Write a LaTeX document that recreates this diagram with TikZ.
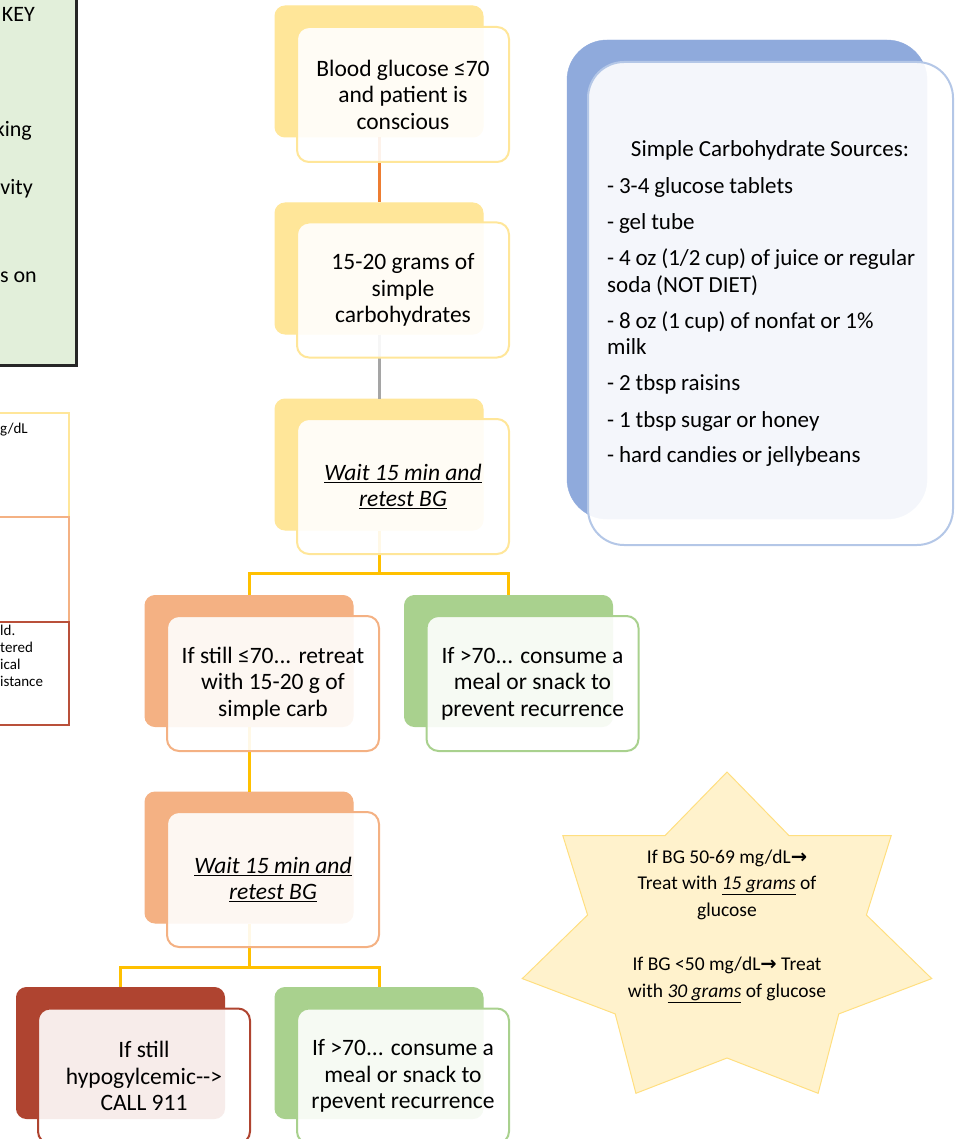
\documentclass[tikz,border=0pt]{standalone}
\usepackage{fontspec}
\setmainfont{Carlito}
\newfontfamily\dejavu{DejaVu Sans}
\usetikzlibrary{calc}
\definecolor{ylw}{HTML}{FFE699}
\definecolor{org}{HTML}{F4B183}
\definecolor{grn}{HTML}{A9D18E}
\definecolor{brick}{HTML}{AF4430}
\definecolor{blueback}{HTML}{8FAADC}
\definecolor{bluefront}{HTML}{B4C7E7}
\definecolor{keygreen}{HTML}{E2EFDA}
\definecolor{keyline}{HTML}{262626}
\definecolor{starfill}{HTML}{FFF2CC}
\definecolor{starline}{HTML}{FFDF80}
\definecolor{lineorange}{HTML}{ED7D31}
\definecolor{linegray}{HTML}{A5A5A5}
\definecolor{linegold}{HTML}{FFC000}
\definecolor{tablered}{HTML}{B9503A}
\begin{document}
\begin{tikzpicture}[x=1pt,y=-1pt,
  backbox/.style={rectangle, rounded corners=10pt, minimum width=208pt, minimum height=131pt, inner sep=0pt, fill=#1, draw=#1, line width=1pt},
  frontbox/.style={rectangle, rounded corners=12pt, minimum width=212pt, minimum height=135pt, inner sep=0pt, draw=#1, line width=2pt, fill=white, fill opacity=0.9, text opacity=1, align=center, font=\fontsize{23.5}{26.5}\selectfont},
  conn/.style={line width=3pt, draw=#1},
  keytext/.style={anchor=base east, inner sep=0pt, font=\fontsize{22}{26}\selectfont},
  tabletext/.style={anchor=base west, inner sep=0pt, font=\fontsize{15}{17}\selectfont},
  cell/.style={line width=1.5pt, draw=#1}
]
\useasboundingbox (0,0) rectangle (960,1139);
\clip (0,0) rectangle (960,1139);

% key box (cut off at the left)
\node[rectangle, draw=keyline, line width=3pt, fill=keygreen, minimum width=84pt, minimum height=372pt, inner sep=0pt] (key) at (34.5,179.5) {};
\node[keytext] (k1) at (35,22) {KEY};
\node[keytext] (k2) at (32,137) {king};
\node[keytext] (k3) at (33,195) {vity};
\node[keytext] (k4) at (37,283) {s on};

% table (cut off at the left)
\draw[cell=ylw] (-5,413) rectangle (69,517);
\draw[cell=org] (-5,517) rectangle (69,622);
\draw[cell=tablered] (-5,622) rectangle (69,725);
\node[tabletext] (t1) at (0,433) {g/dL};
\node[tabletext] (t2) at (0,635) {ld.};
\node[tabletext] (t3) at (0,652) {tered};
\node[tabletext] (t4) at (0,669) {ical};
\node[tabletext] (t5) at (0,686) {istance};

% simple carbohydrate box
\node[rectangle, rounded corners=40pt, fill=blueback, draw=blueback, minimum width=360pt, minimum height=479pt, inner sep=0pt] (cb) at (747,279.5) {};
\node[rectangle, rounded corners=36pt, fill=white, fill opacity=0.9, draw=bluefront, line width=2pt, minimum width=365pt, minimum height=483pt, inner sep=0pt] (cf) at (770.5,303.5) {};
\node[anchor=base, inner sep=0pt, font=\fontsize{23}{26.5}\selectfont] (ctitle) at (770,157) {\spaceskip=0.21em Simple Carbohydrate Sources:};
\node[anchor=base west, inner sep=0pt, text width=345pt, align=left, font=\fontsize{23}{26.5}\selectfont] (clist) at (607,194) {\setlength{\parskip}{9.5pt}\spaceskip=0.21em plus 0.05em%
- 3-4 glucose tablets\par
- gel tube\par
- 4 oz (1/2 cup) of juice or regular\\soda (NOT DIET)\par
- 8 oz (1 cup) of nonfat or 1\%\\milk\par
- 2 tbsp raisins\par
- 1 tbsp sugar or honey\par
- hard candies or jellybeans};

% star
\draw[fill=starfill, draw=starline, line width=1pt]
  (727,772) -- (789,835.6) -- (891.2,835.6) -- (866.4,915) -- (931.7,978.6) -- (838.8,1013.9) -- (818.1,1093.3)
  -- (727,1058) -- (635.9,1093.3) -- (615.2,1013.9) -- (522.3,978.6) -- (587.6,915) -- (562.8,835.6) -- (665,835.6) -- cycle;
\node[align=center, inner sep=0pt, font=\fontsize{19.5}{26.8}\selectfont] (stext) at (727,926) {%
If BG 50-69 mg/dL{\dejavu\bfseries →}\\
Treat with \underline{\textit{15 grams}} of\\
glucose\\[26.8pt]
If BG <50 mg/dL{\dejavu\bfseries →} Treat\\
with \underline{\textit{30 grams}} of glucose};

% back boxes
\node[backbox=ylw] (b1) at (379,71.5) {};
\node[backbox=ylw] (b2) at (379,268.5) {};
\node[backbox=ylw] (b3) at (379,464.5) {};
\node[backbox=org] (b4) at (249,661) {};
\node[backbox=grn] (b5) at (508.5,661) {};
\node[backbox=org] (b6) at (249,857.5) {};
\node[backbox=brick] (b7) at (120.5,1053) {};
\node[backbox=grn] (b8) at (379,1053) {};

% connectors
\coordinate (j1) at (379,573);
\coordinate (j2) at (249,967);
\draw[conn=lineorange] (b1.south) -- (b2.north);
\draw[conn=linegray] (b2.south) -- (b3.north);
\draw[conn=linegold] (b3.south) -- (j1);
\draw[conn=linegold] (j1) -| (b4.north);
\draw[conn=linegold] (j1) -| (b5.north);
\draw[conn=linegold] (b4.south) -- (b6.north);
\draw[conn=linegold] (b6.south) -- (j2);
\draw[conn=linegold] (j2) -| (b7.north);
\draw[conn=linegold] (j2) -| (b8.north);

% front boxes
\node[frontbox=ylw] (f1) at (403,94.5) {Blood glucose ≤70\\and patient is\\conscious};
\node[frontbox=ylw] (f2) at (403,290) {15-20 grams of\\simple\\carbohydrates};
\node[frontbox=ylw] (f3) at (403,486.5) {\underline{\textit{Wait 15 min and}}\\\underline{\textit{retest BG}}};
\node[frontbox=org] (f4) at (273,683.5) {If still ≤70... retreat\\with 15-20 g of\\simple carb};
\node[frontbox=grn] (f5) at (532.5,683.5) {If >70... consume a\\meal or snack to\\prevent recurrence};
\node[frontbox=org] (f6) at (273,879.5) {\underline{\textit{Wait 15 min and}}\\\underline{\textit{retest BG}}};
\node[frontbox=brick] (f7) at (144,1076) {If still\\hypogylcemic-{}-{}>\\CALL 911};
\node[frontbox=grn] (f8) at (403,1076) {If >70... consume a\\meal or snack to\\rpevent recurrence};
\end{tikzpicture}
\end{document}
